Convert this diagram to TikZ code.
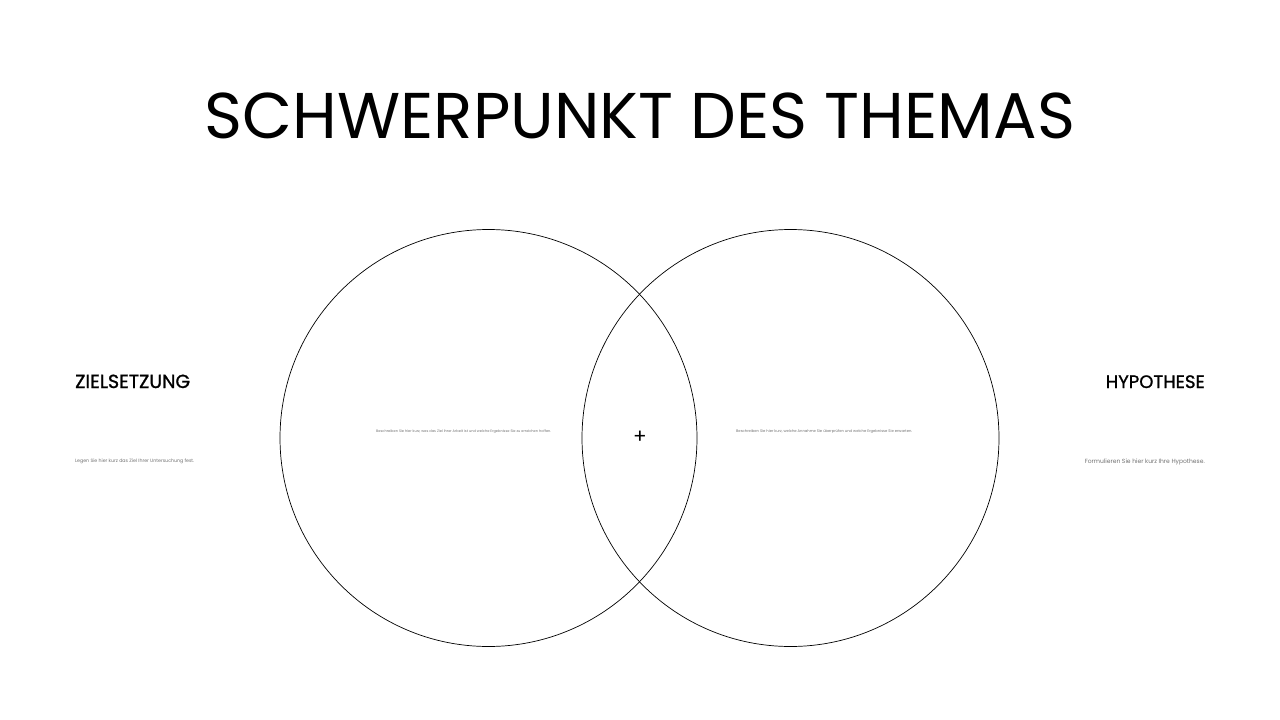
\documentclass[tikz,border=0pt]{standalone}
\usepackage{fontspec}
\usepackage{graphicx}
\setmainfont{Poppins}
\newfontfamily\headfont[FakeBold=1.2]{Poppins}
\tikzset{
  venn/.style={draw=black, line width=0.7pt},
  heading/.style={font=\headfont\fontsize{17}{20}\selectfont, text=black, inner sep=0pt},
  tiny/.style={text=black!55, inner sep=0pt},
}
\newcommand{\fitw}[2]{\resizebox{#1}{!}{#2}}
\begin{document}
\begin{tikzpicture}[x=1pt,y=-1pt]
\useasboundingbox (0,0) rectangle (1280,720);
\fill[white] (0,0) rectangle (1280,720);
\node[inner sep=0pt, anchor=base] (title) at (640,138) {\fitw{870pt}{\fontsize{70}{80}\selectfont SCHWERPUNKT DES THEMAS}};
\draw[venn] (488.5,438) circle (208.5);
\draw[venn] (790.5,438) circle (208.5);
\node (lc) at (488.5,438) {};
\node (rc) at (790.5,438) {};
\node[inner sep=0pt] (plus) at (640,437.5) {\fontsize{20}{20}\selectfont +};
\node[tiny, anchor=west] (ltext) at (376,431.5) {\fitw{175pt}{Beschreiben Sie hier kurz, was das Ziel Ihrer Arbeit ist und welche Ergebnisse Sie zu erreichen hoffen.}};
\node[tiny, anchor=west] (rtext) at (736,431.5) {\fitw{176pt}{Beschreiben Sie hier kurz, welche Annahme Sie überprüfen und welche Ergebnisse Sie erwarten.}};
\node[heading, anchor=base west] (ziel) at (75,388) {\fitw{115pt}{ZIELSETZUNG}};
\node[heading, anchor=base east] (hypo) at (1205,388) {\fitw{99pt}{HYPOTHESE}};
\node[tiny, anchor=west] (zieltext) at (75,461.5) {\fitw{119pt}{Legen Sie hier kurz das Ziel Ihrer Untersuchung fest.}};
\node[tiny, anchor=east] (hypotext) at (1205,461.5) {\fitw{120pt}{Formulieren Sie hier kurz Ihre Hypothese.}};
\end{tikzpicture}
\end{document}
